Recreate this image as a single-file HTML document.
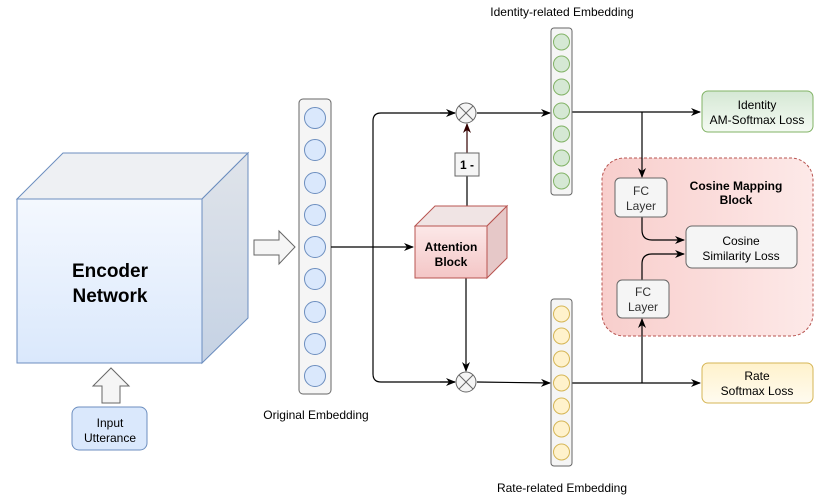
<!DOCTYPE html>
<html><head><meta charset="utf-8"><style>
html,body{margin:0;padding:0;background:#fff;}
svg{display:block;font-family:"Liberation Sans",Arial,sans-serif;}
</style></head><body>
<svg width="831" height="497" viewBox="0 0 831 497" xmlns="http://www.w3.org/2000/svg">
<defs>
<linearGradient id="encF" x1="0" y1="0" x2="0" y2="1"><stop offset="0" stop-color="#f4f8fe"/><stop offset="1" stop-color="#dae8fc"/></linearGradient>
<linearGradient id="encS" x1="0" y1="0" x2="0" y2="1"><stop offset="0" stop-color="#e0e4ea"/><stop offset="1" stop-color="#c5d2e4"/></linearGradient>
<linearGradient id="attF" x1="0" y1="0" x2="0" y2="1"><stop offset="0" stop-color="#fce8e8"/><stop offset="1" stop-color="#f4c6c6"/></linearGradient>
<linearGradient id="grn" x1="0" y1="0" x2="0" y2="1"><stop offset="0" stop-color="#d5e8d4"/><stop offset="1" stop-color="#f4faf3"/></linearGradient>
<linearGradient id="yel" x1="0" y1="0" x2="0" y2="1"><stop offset="0" stop-color="#fff2cc"/><stop offset="1" stop-color="#fffbf0"/></linearGradient>
<linearGradient id="cos" x1="0" y1="0" x2="1" y2="0"><stop offset="0" stop-color="#f8cecc"/><stop offset="1" stop-color="#fde9e8"/></linearGradient>
<marker id="ar" markerWidth="10" markerHeight="10" refX="9" refY="5" orient="auto" markerUnits="userSpaceOnUse"><path d="M0,1 L10,5 L0,9 L3,5 Z" fill="#000"/></marker>
<marker id="ard" markerWidth="10" markerHeight="10" refX="9" refY="5" orient="auto" markerUnits="userSpaceOnUse"><path d="M0,1 L10,5 L0,9 L3,5 Z" fill="#330000"/></marker>
</defs>

<polygon points="17,199 63,153 248,153 202,199" fill="#eef0f3" stroke="#6c8ebf"/>
<polygon points="202,199 248,153 248,318 202,363" fill="url(#encS)" stroke="#6c8ebf"/>
<rect x="17" y="199" width="185" height="164" fill="url(#encF)" stroke="#6c8ebf"/>
<text x="110" y="277" font-size="19" font-weight="bold" text-anchor="middle">Encoder</text>
<text x="110" y="302" font-size="19" font-weight="bold" text-anchor="middle">Network</text>

<polygon points="254,240 279,240 279,231 295,247 279,264 279,255 254,255" fill="#f5f5f5" stroke="#666"/>
<polygon points="102,403 102,386 93,386 111,368 129,386 120,386 120,403" fill="#f5f5f5" stroke="#666"/>
<rect x="72" y="407" width="75" height="43" rx="7" fill="#dae8fc" stroke="#6c8ebf"/>
<text x="110" y="427" font-size="12" text-anchor="middle">Input</text>
<text x="110" y="442" font-size="12" text-anchor="middle">Utterance</text>

<rect x="299" y="99" width="32" height="295" rx="4" fill="#f5f5f5" stroke="#666"/>
<g fill="#dae8fc" stroke="#6c8ebf">
<circle cx="315" cy="118" r="10.5"/><circle cx="315" cy="150" r="10.5"/><circle cx="315" cy="183" r="10.5"/>
<circle cx="315" cy="215" r="10.5"/><circle cx="315" cy="247" r="10.5"/><circle cx="315" cy="279" r="10.5"/>
<circle cx="315" cy="312" r="10.5"/><circle cx="315" cy="344" r="10.5"/><circle cx="315" cy="376" r="10.5"/>
</g>
<text x="316" y="419" font-size="12" text-anchor="middle">Original Embedding</text>

<!-- cosine block (drawn before lines) -->
<rect x="602" y="158" width="211" height="178" rx="22" fill="url(#cos)" stroke="#b85450" stroke-dasharray="3,2"/>
<text x="736" y="190" font-size="12" font-weight="bold" text-anchor="middle">Cosine  Mapping</text>
<text x="736" y="204" font-size="12" font-weight="bold" text-anchor="middle">Block</text>

<g fill="none" stroke="#000" stroke-width="1.2">
<line x1="331" y1="247" x2="413" y2="247" marker-end="url(#ar)"/>
<path d="M455,113 L381,113 Q373,113 373,121 L373,374 Q373,382 381,382 L455,382" />
<line x1="440" y1="113" x2="455" y2="113" marker-end="url(#ar)"/>
<line x1="440" y1="382" x2="455" y2="382" marker-end="url(#ar)"/>
<line x1="467" y1="206" x2="467" y2="176"/>
<line x1="466" y1="278" x2="466" y2="371" marker-end="url(#ar)"/>
<line x1="477" y1="113" x2="550" y2="113" marker-end="url(#ar)"/>
<line x1="477" y1="382" x2="550" y2="383" marker-end="url(#ar)"/>
<line x1="572" y1="112" x2="700" y2="112" marker-end="url(#ar)"/>
<line x1="572" y1="383" x2="700" y2="383" marker-end="url(#ar)"/>
<line x1="642" y1="112" x2="642" y2="177" marker-end="url(#ar)"/>
<line x1="642" y1="383" x2="642" y2="319" marker-end="url(#ar)"/>
<path d="M642,217 L642,230 Q642,240 652,240 L684,240" marker-end="url(#ar)"/>
<path d="M642,280 L642,264 Q642,254 652,254 L684,254" marker-end="url(#ar)"/>
</g>
<line x1="467" y1="153" x2="467" y2="124" stroke="#330000" stroke-width="1.2" marker-end="url(#ard)"/>

<g fill="#f5f5f5" stroke="#666">
<circle cx="466" cy="113" r="10"/><circle cx="466" cy="382" r="10"/>
</g>
<g stroke="#666" stroke-width="1">
<line x1="459" y1="106" x2="473" y2="120"/><line x1="473" y1="106" x2="459" y2="120"/>
<line x1="459" y1="375" x2="473" y2="389"/><line x1="473" y1="375" x2="459" y2="389"/>
</g>

<rect x="455" y="153" width="24" height="23" fill="#f5f5f5" stroke="#666"/>
<text x="467" y="169" font-size="12" font-weight="bold" text-anchor="middle">1 -</text>

<polygon points="415,226 435,206 507,206 487,226" fill="#f0e4e4" stroke="#b85450"/>
<polygon points="487,226 507,206 507,258 487,278" fill="#e6c8c8" stroke="#b85450"/>
<rect x="415" y="226" width="72" height="52" fill="url(#attF)" stroke="#b85450"/>
<text x="451" y="251" font-size="12" font-weight="bold" text-anchor="middle">Attention</text>
<text x="451" y="266" font-size="12" font-weight="bold" text-anchor="middle">Block</text>

<text x="562" y="16" font-size="12" text-anchor="middle">Identity-related Embedding</text>
<rect x="551" y="28" width="21" height="167" rx="3" fill="#f5f5f5" stroke="#666"/>
<g fill="#d5e8d4" stroke="#82b366">
<circle cx="561.5" cy="42" r="8"/><circle cx="561.5" cy="64" r="8"/><circle cx="561.5" cy="87" r="8"/>
<circle cx="561.5" cy="111" r="8"/><circle cx="561.5" cy="134" r="8"/><circle cx="561.5" cy="158" r="8"/><circle cx="561.5" cy="181" r="8"/>
</g>

<rect x="551" y="299" width="21" height="167" rx="3" fill="#f5f5f5" stroke="#666"/>
<g fill="#fff2cc" stroke="#d6b656">
<circle cx="561.5" cy="314" r="8"/><circle cx="561.5" cy="336" r="8"/><circle cx="561.5" cy="359" r="8"/>
<circle cx="561.5" cy="383" r="8"/><circle cx="561.5" cy="406" r="8"/><circle cx="561.5" cy="429" r="8"/><circle cx="561.5" cy="452" r="8"/>
</g>
<text x="562" y="492" font-size="12" text-anchor="middle">Rate-related Embedding</text>

<rect x="702" y="91" width="111" height="41" rx="6" fill="url(#grn)" stroke="#82b366"/>
<text x="757" y="109" font-size="12" text-anchor="middle">Identity</text>
<text x="757" y="124" font-size="12" text-anchor="middle">AM-Softmax Loss</text>
<rect x="702" y="363" width="111" height="40" rx="6" fill="url(#yel)" stroke="#d6b656"/>
<text x="757" y="380" font-size="12" text-anchor="middle">Rate</text>
<text x="757" y="395" font-size="12" text-anchor="middle">Softmax Loss</text>

<rect x="615" y="178" width="52" height="39" rx="5" fill="#f5f5f5" stroke="#666"/>
<text x="641" y="195" font-size="12" fill="#333" text-anchor="middle">FC</text>
<text x="641" y="210" font-size="12" fill="#333" text-anchor="middle">Layer</text>
<rect x="617" y="280" width="52" height="38" rx="5" fill="#f5f5f5" stroke="#666"/>
<text x="643" y="296" font-size="12" fill="#333" text-anchor="middle">FC</text>
<text x="643" y="311" font-size="12" fill="#333" text-anchor="middle">Layer</text>
<rect x="686" y="226" width="111" height="42" rx="6" fill="#f5f5f5" stroke="#666"/>
<text x="741" y="245" font-size="12" text-anchor="middle">Cosine</text>
<text x="741" y="260" font-size="12" text-anchor="middle">Similarity Loss</text>
</svg>
</body></html>
